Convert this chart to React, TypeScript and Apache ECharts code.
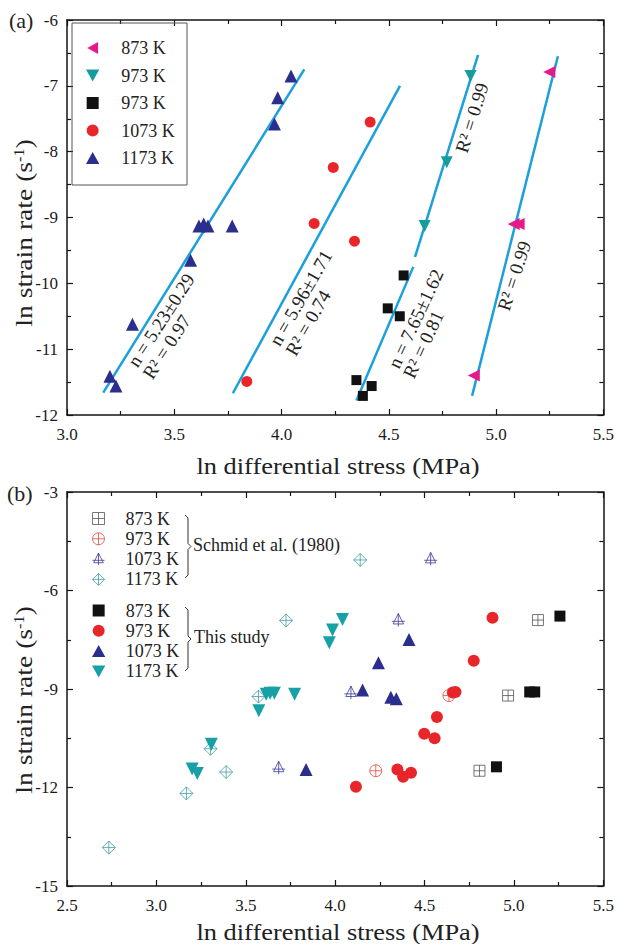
import React, { useEffect, useRef } from "react";
import * as echarts from "echarts";

const FONT = "Liberation Serif";

// ---------- Panel (a) data: [ln stress, ln strain rate] ----------
const a873: number[][] = [[5.248, -6.79], [5.082, -9.10], [5.105, -9.10], [4.896, -11.40]];
const a973tri: number[][] = [[4.881, -6.85], [4.77, -8.16], [4.667, -9.13]];
const a973sq: number[][] = [[4.569, -9.88], [4.495, -10.38], [4.551, -10.50], [4.349, -11.47], [4.42, -11.56], [4.379, -11.71]];
const a1073: number[][] = [[4.413, -7.55], [4.241, -8.24], [4.152, -9.09], [4.34, -9.36], [3.838, -11.49]];
const a1173: number[][] = [[4.044, -6.85], [3.982, -7.18], [3.967, -7.58], [3.615, -9.13], [3.637, -9.10], [3.657, -9.13], [3.77, -9.13], [3.576, -9.65], [3.305, -10.62], [3.2, -11.41], [3.228, -11.56]];
const fitLines: number[][][] = [
  [[3.169, -11.66], [4.106, -6.75]],
  [[3.773, -11.67], [4.552, -7.0]],
  [[4.349, -11.78], [4.614, -9.75]],
  [[4.622, -9.6], [4.916, -6.53]],
  [[4.888, -11.71], [5.288, -6.55]],
];
const legendNamesA = ["a873", "a973t", "a973s", "a1073", "a1173"];
const legendLabelsA = ["873 K", "973 K", "973 K", "1073 K", "1173 K"];
const fitTexts: string[][] = [
  ["n = 5.23±0.29", "R² = 0.97"],
  ["n = 5.96±1.71", "R² = 0.74"],
  ["n = 7.65±1.62", "R² = 0.81"],
  ["R² = 0.99"],
  ["R² = 0.99"],
];

// ---------- Panel (b) data ----------
const bS873: number[][] = [[5.134, -6.9], [4.967, -9.2], [4.807, -11.49]];
const bS973: number[][] = [[4.636, -9.2], [4.227, -11.49]];
const bS1073: number[][] = [[4.534, -5.04], [4.353, -6.9], [4.088, -9.11], [3.684, -11.4]];
const bS1173: number[][] = [[4.14, -5.07], [3.725, -6.91], [3.571, -9.23], [3.303, -10.82], [3.39, -11.53], [3.168, -12.18], [2.734, -13.83]];
const bT873: number[][] = [[5.257, -6.78], [5.088, -9.09], [5.116, -9.09], [4.902, -11.37]];
const bT973: number[][] = [[4.88, -6.83], [4.775, -8.14], [4.658, -9.11], [4.673, -9.09], [4.569, -9.85], [4.498, -10.36], [4.556, -10.5], [4.348, -11.45], [4.38, -11.67], [4.424, -11.55], [4.116, -11.98]];
const bT1073: number[][] = [[4.413, -7.49], [4.242, -8.2], [4.153, -9.03], [4.311, -9.25], [4.342, -9.3], [3.837, -11.45]];
const bT1173: number[][] = [[4.041, -6.88], [3.985, -7.2], [3.967, -7.59], [3.614, -9.16], [3.636, -9.13], [3.66, -9.13], [3.773, -9.16], [3.573, -9.66], [3.307, -10.68], [3.2, -11.44], [3.229, -11.57]];
const legendNamesBS = ["bs873", "bs973", "bs1073", "bs1173"];
const legendNamesBT = ["bt873", "bt973", "bt1073", "bt1173"];
const legendLabelsB = ["873 K", "973 K", "1073 K", "1173 K"];
const groupLabels = ["Schmid et al. (1980)", "This study"];

const X_TITLE = "ln differential stress (MPa)";

const labelMap: Record<string, string> = {};
legendNamesA.forEach((n, i) => (labelMap[n] = legendLabelsA[i]));
legendNamesBS.forEach((n, i) => (labelMap[n] = legendLabelsB[i]));
legendNamesBT.forEach((n, i) => (labelMap[n] = legendLabelsB[i]));

const SYM_TRI = "path://M5,0L10,9L0,9Z";
const SYM_TRI_DOWN = "path://M0,0L10,0L5,9Z";
const SYM_TRI_LEFT = "path://M0,5L9,0L9,10Z";
const SYM_SQ = "path://M0,0L10,0L10,10L0,10Z";
const SYM_CIR = "path://M0,5A5,5,0,1,1,10,5A5,5,0,1,1,0,5Z";
const SYM_CROSS_SQ = "path://M0,0L10,0L10,10L0,10Z M5,0L5,10 M0,5L10,5";
const SYM_CROSS_CIR = "path://M0,5A5,5,0,1,1,10,5A5,5,0,1,1,0,5Z M5,0L5,10 M0,5L10,5";
const SYM_CROSS_DIA = "path://M5,0L10,5L5,10L0,5Z M5,0L5,10 M0,5L10,5";
const SYM_CROSS_TRI = "path://M5,0L9,8L1,8Z M5,0L5,10 M0,6L10,6";

const AX = "#151515";

function mkX(gridIndex: number, min: number, pos: string, showLabel: boolean) {
  return {
    type: "value", gridIndex, min, max: 5.5, interval: 0.5, position: pos,
    axisLine: { show: true, onZero: false, lineStyle: { color: AX, width: 1.5 } },
    axisTick: { show: true, inside: true, length: 6, lineStyle: { color: AX, width: 1.2 } },
    minorTick: { show: true, splitNumber: 2, length: 4, lineStyle: { color: AX, width: 1.2 } },
    splitLine: { show: false }, minorSplitLine: { show: false },
    axisLabel: { show: showLabel, margin: 11, fontSize: 17, fontFamily: FONT, color: "#1a1a1a", formatter: (v: number) => v.toFixed(1) },
  };
}
function mkY(gridIndex: number, min: number, max: number, interval: number, pos: string, showLabel: boolean) {
  return {
    type: "value", gridIndex, min, max, interval, position: pos,
    axisLine: { show: true, onZero: false, lineStyle: { color: AX, width: 1.5 } },
    axisTick: { show: true, inside: true, length: 6, lineStyle: { color: AX, width: 1.2 } },
    minorTick: { show: true, splitNumber: 2, length: 4, lineStyle: { color: AX, width: 1.2 } },
    splitLine: { show: false }, minorSplitLine: { show: false },
    axisLabel: { show: showLabel, margin: 9, fontSize: 17, fontFamily: FONT, color: "#1a1a1a", formatter: (v: number) => String(v) },
  };
}

function scat(name: string, data: number[][], gi: number, symbol: string, size: number, color: string, open = false) {
  return {
    type: "scatter", name, data, xAxisIndex: gi, yAxisIndex: gi, symbol, symbolSize: size, z: 5,
    itemStyle: open ? { color: "rgba(0,0,0,0)", borderColor: color, borderWidth: 1 } : { color, opacity: 1 },
  };
}

function legend(names: string[], left: number, top: number, gap: number, itemWidth: number) {
  return {
    data: names, orient: "vertical", left, top, padding: 0, itemGap: gap, itemWidth, itemHeight: 12,
    selectedMode: false, formatter: (n: string) => labelMap[n], symbolKeepAspect: true,
    itemStyle: { borderWidth: 1 },
    textStyle: { fontSize: 18, lineHeight: 17, fontFamily: FONT, color: "#222" },
  };
}

function rotText(x: number, y: number, deg: number, text: string, size = 19) {
  return {
    type: "text", x, y, rotation: (deg * Math.PI) / 180, z: 10,
    style: { text, fontSize: size, fontFamily: FONT, fill: "#222", align: "left", verticalAlign: "middle" },
  };
}

function yTitle(cy: number) {
  return {
    type: "text", x: 24, y: cy, rotation: Math.PI / 2, scaleX: 1.15, z: 10,
    style: {
      text: "{a|ln strain rate (s}{b|-1}{a|)}",
      align: "center", verticalAlign: "middle",
      rich: {
        a: { fontSize: 24, fontFamily: FONT, fill: "#222" },
        b: { fontSize: 14, fontFamily: FONT, fill: "#222", verticalAlign: "top", padding: [0, 0, 10, 0] },
      },
    },
  };
}

function xTitle(cy: number) {
  return {
    type: "text", x: 338, y: cy, scaleX: 1.1, z: 10,
    style: { text: X_TITLE, fontSize: 24, fontFamily: FONT, fill: "#222", align: "center", verticalAlign: "middle" },
  };
}

function brace(x: number, y0: number, y1: number) {
  const m = (y0 + y1) / 2;
  return {
    type: "polyline", z: 10,
    shape: { points: [[x - 3, y0], [x, y0 + 3], [x, m - 3], [x + 3, m], [x, m + 3], [x, y1 - 3], [x - 3, y1]] },
    style: { stroke: "#333", lineWidth: 1, fill: "none" },
  };
}

const fitAnchors = [
  [[132, 365], [147, 377], 57],
  [[274, 344], [290, 354], 60],
  [[393, 367], [408, 377], 65],
  [[461, 152], null, 72.5],
  [[503, 310], null, 72],
];

const option: any = {
  animation: false,
  backgroundColor: "#fff",
  grid: [
    { left: 67, top: 20, width: 538, height: 395 },
    { left: 67, top: 492, width: 538, height: 394 },
  ],
  xAxis: [mkX(0, 3, "bottom", true), mkX(0, 3, "top", false), mkX(1, 2.5, "bottom", true), mkX(1, 2.5, "top", false)],
  yAxis: [mkY(0, -12, -6, 1, "left", true), mkY(0, -12, -6, 1, "right", false), mkY(1, -15, -3, 3, "left", true), mkY(1, -15, -3, 3, "right", false)],
  legend: [
    legend(legendNamesA, 86, 39, 9.5, 47),
    legend(legendNamesBS, 92, 509.5, 2.3, 44),
    legend(legendNamesBT, 92, 601.5, 2.3, 44),
  ],
  series: [
    ...fitLines.map((d, i) => ({
      type: "line", name: "fit" + i, data: d, xAxisIndex: 0, yAxisIndex: 0, symbol: "none", z: 3,
      lineStyle: { color: "#1BA0DC", width: 2.5 },
    })),
    scat("a873", a873, 0, SYM_TRI_LEFT, 12, "#E5198A"),
    scat("a973t", a973tri, 0, SYM_TRI_DOWN, 12, "#169C9C"),
    scat("a973s", a973sq, 0, SYM_SQ, 10, "#111111"),
    scat("a1073", a1073, 0, SYM_CIR, 11, "#E8262A"),
    scat("a1173", a1173, 0, SYM_TRI, 13, "#2B2E8C"),
    scat("bs873", bS873, 2, SYM_CROSS_SQ, 11, "#555555", true),
    scat("bs973", bS973, 2, SYM_CROSS_CIR, 12, "#E04A3F", true),
    scat("bs1073", bS1073, 2, SYM_CROSS_TRI, 13, "#3B3B9B", true),
    scat("bs1173", bS1173, 2, SYM_CROSS_DIA, 13, "#3E9CA2", true),
    scat("bt873", bT873, 2, SYM_SQ, 11, "#111111"),
    scat("bt973", bT973, 2, SYM_CIR, 12, "#E8262A"),
    scat("bt1073", bT1073, 2, SYM_TRI, 13, "#2B2E8C"),
    scat("bt1173", bT1173, 2, SYM_TRI_DOWN, 13, "#17A0A6"),
  ],
  graphic: [
    { type: "rect", z: 10, shape: { x: 72, y: 23, width: 115, height: 162 }, style: { fill: "none", stroke: "#555", lineWidth: 1 } },
    { type: "text", x: 9, y: 20, z: 10, style: { text: "(a)", fontSize: 22, fontFamily: FONT, fill: "#222", align: "left", verticalAlign: "middle" } },
    { type: "text", x: 7, y: 493, z: 10, style: { text: "(b)", fontSize: 22, fontFamily: FONT, fill: "#222", align: "left", verticalAlign: "middle" } },
    yTitle(233),
    yTitle(700),
    xTitle(466),
    xTitle(932),
    brace(188, 515, 578),
    brace(188, 607, 671),
    { type: "text", x: 193, y: 545, z: 10, style: { text: groupLabels[0], fontSize: 18, fontFamily: FONT, fill: "#222", align: "left", verticalAlign: "middle" } },
    { type: "text", x: 194, y: 637, z: 10, style: { text: groupLabels[1], fontSize: 18, fontFamily: FONT, fill: "#222", align: "left", verticalAlign: "middle" } },
    ...fitTexts.flatMap((lines, i) => {
      const a: any = fitAnchors[i];
      const out: any[] = [];
      lines.forEach((t, j) => {
        const p = a[j];
        if (p) out.push(rotText(p[0], p[1], a[2], t));
      });
      return out;
    }),
  ],
};

export default function App() {
  const ref = useRef<HTMLDivElement>(null);
  useEffect(() => {
    const chart = echarts.init(ref.current!, null, { renderer: "svg" });
    chart.setOption(option);
    return () => chart.dispose();
  }, []);
  return <div ref={ref} style={{ position: "fixed", left: 0, top: 0, width: 617, height: 944, background: "#fff" }} />;
}
